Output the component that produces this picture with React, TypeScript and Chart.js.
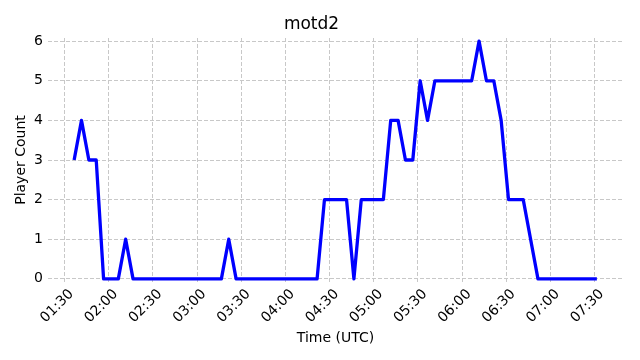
import { useEffect, useRef } from 'react';
import { Chart, registerables } from 'chart.js';

Chart.register(...registerables);

// Sample times (UTC), one every 5 minutes
const sampleTimes: string[] = [
  '01:36:30', '01:41:30', '01:46:30', '01:51:30', '01:56:30', '02:01:30', '02:06:30', '02:11:30', '02:16:30', '02:21:30', '02:26:30', '02:31:30',
  '02:36:30', '02:41:30', '02:46:30', '02:51:30', '02:56:30', '03:01:30', '03:06:30', '03:11:30', '03:16:30', '03:21:30', '03:26:30', '03:31:30',
  '03:36:30', '03:41:30', '03:46:30', '03:51:30', '03:56:30', '04:01:30', '04:06:30', '04:11:30', '04:16:30', '04:21:30', '04:26:30', '04:31:30',
  '04:36:30', '04:41:30', '04:46:30', '04:51:30', '04:56:30', '05:01:30', '05:06:30', '05:11:30', '05:16:30', '05:21:30', '05:26:30', '05:31:30',
  '05:36:30', '05:41:30', '05:46:30', '05:51:30', '05:56:30', '06:01:30', '06:06:30', '06:11:30', '06:16:30', '06:21:30', '06:26:30', '06:31:30',
  '06:36:30', '06:41:30', '06:46:30', '06:51:30', '06:56:30', '07:01:30', '07:06:30', '07:11:30', '07:16:30', '07:21:30', '07:26:30', '07:31:30',
];

const playerCounts: number[] = [
  3, 4, 3, 3, 0, 0, 0, 1, 0, 0, 0, 0,
  0, 0, 0, 0, 0, 0, 0, 0, 0, 1, 0, 0,
  0, 0, 0, 0, 0, 0, 0, 0, 0, 0, 2, 2,
  2, 2, 0, 2, 2, 2, 2, 4, 4, 3, 3, 5,
  4, 5, 5, 5, 5, 5, 5, 6, 5, 5, 4, 2,
  2, 2, 1, 0, 0, 0, 0, 0, 0, 0, 0, 0,
];

const xTickLabels: string[] = [
  '01:30', '02:00', '02:30', '03:00', '03:30', '04:00', '04:30',
  '05:00', '05:30', '06:00', '06:30', '07:00', '07:30',
];

const yTickValues: number[] = [0, 1, 2, 3, 4, 5, 6];

const xAxisMin = '01:18:45';
const xAxisMax = '07:49:15';
const yAxisMin = -0.08;
const yAxisMax = 6.08;

function toMinutes(t: string): number {
  const parts = t.split(':').map(Number);
  return parts[0] * 60 + parts[1] + (parts[2] || 0) / 60;
}

function fmtMinutes(v: number): string {
  const h = Math.floor(v / 60);
  const m = Math.round(v - h * 60);
  return String(h).padStart(2, '0') + ':' + String(m).padStart(2, '0');
}

const FONT = 'DejaVu Sans';

export default function App() {
  const ref = useRef<HTMLCanvasElement>(null);

  useEffect(() => {
    document.body.style.margin = '0';
    const canvas = ref.current;
    if (!canvas) return;
    const chart = new Chart(canvas, {
      type: 'line',
      data: {
        datasets: [
          {
            data: sampleTimes.map((t, i) => ({ x: toMinutes(t), y: playerCounts[i] })),
            borderColor: '#0000ff',
            backgroundColor: '#0000ff',
            borderWidth: 3.3,
            pointRadius: 0,
            tension: 0,
            borderJoinStyle: 'round',
            fill: false,
          },
        ],
      },
      options: {
        animation: false,
        responsive: false,
        layout: { padding: { left: 0, right: 17, top: 0, bottom: 0 } },
        plugins: {
          legend: { display: false },
          tooltip: { enabled: false },
          title: {
            display: true,
            text: 'motd2',
            color: '#000',
            font: { family: FONT, size: 17, weight: 'normal' },
            padding: { top: 14, bottom: 3.6 },
          },
        },
        scales: {
          x: {
            type: 'linear',
            min: toMinutes(xAxisMin),
            max: toMinutes(xAxisMax),
            afterBuildTicks: (s: any) => {
              s.ticks = xTickLabels.map((l) => ({ value: toMinutes(l) }));
            },
            afterFit: (s: any) => {
              s.height = 78;
            },
            ticks: {
              autoSkip: false,
              minRotation: 45,
              maxRotation: 45,
              padding: 4,
              labelOffset: 7,
              color: '#000',
              font: { family: FONT, size: 14 },
              callback: (v: any) => fmtMinutes(Number(v)),
            },
            grid: { color: '#c8c8c8', drawTicks: false, lineWidth: 1 },
            border: { display: false, dash: [4, 2] },
            title: {
              display: true,
              text: 'Time (UTC)',
              color: '#000',
              font: { family: FONT, size: 14 },
              padding: { top: 0, bottom: 13.6 },
            },
          },
          y: {
            type: 'linear',
            min: yAxisMin,
            max: yAxisMax,
            afterBuildTicks: (s: any) => {
              s.ticks = yTickValues.map((v) => ({ value: v }));
            },
            afterFit: (s: any) => {
              s.width = 48;
            },
            ticks: {
              padding: 5,
              color: '#000',
              font: { family: FONT, size: 14 },
              callback: (v: any) => String(v),
            },
            grid: { color: '#c8c8c8', drawTicks: false, lineWidth: 1 },
            border: { display: false, dash: [4, 2] },
            title: {
              display: true,
              text: 'Player Count',
              color: '#000',
              font: { family: FONT, size: 14 },
              padding: { top: 12.6, bottom: 0 },
            },
          },
        },
      },
    });
    return () => chart.destroy();
  }, []);

  return (
    <div style={{ width: 640, height: 360 }}>
      <canvas ref={ref} width={640} height={360} style={{ display: 'block' }} />
    </div>
  );
}
